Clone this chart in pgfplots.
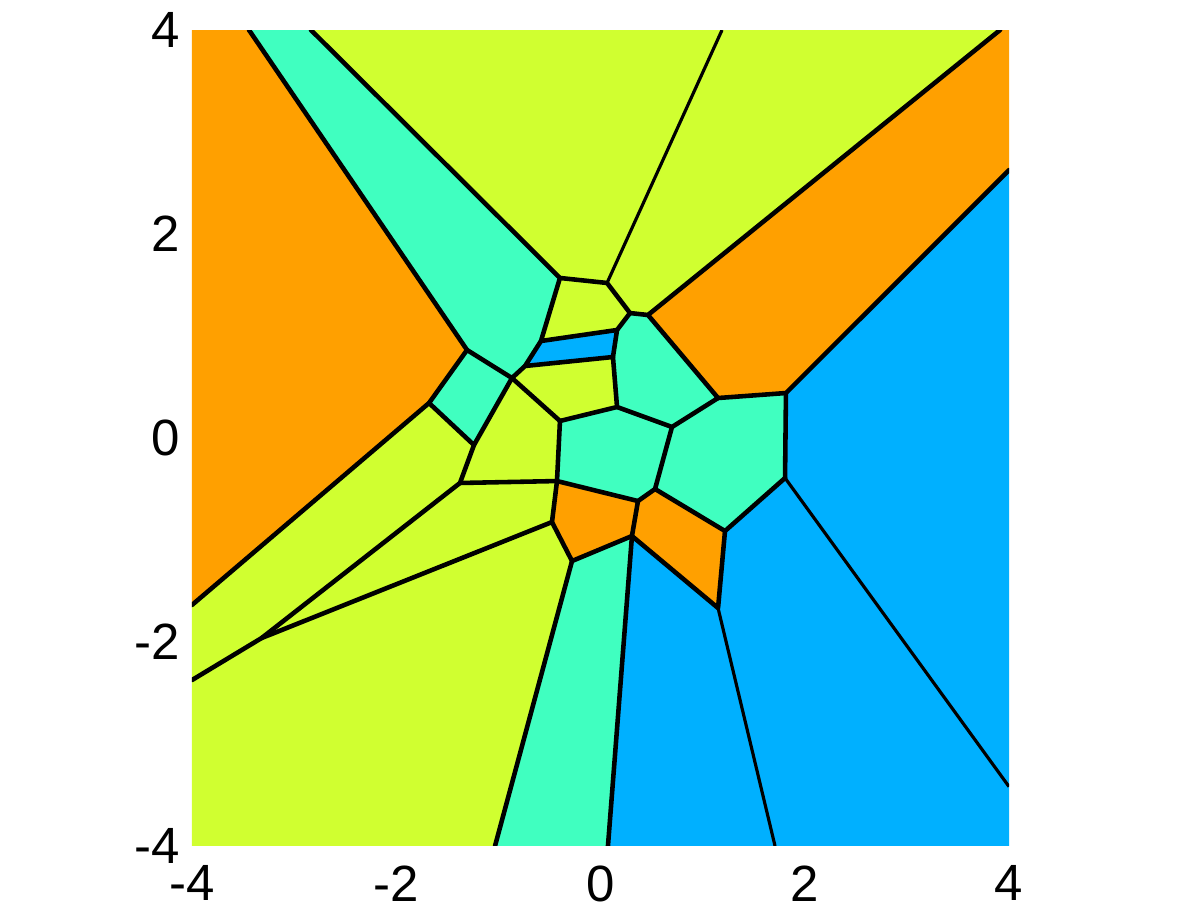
\documentclass[border=0pt]{standalone}
\usepackage{fontspec}
\setmainfont{Liberation Sans}
\usepackage{pgfplots}
\pgfplotsset{compat=1.18}
\definecolor{vorange}{RGB}{255,160,0}
\definecolor{vyellow}{RGB}{208,255,48}
\definecolor{vteal}{RGB}{64,255,192}
\definecolor{vblue}{RGB}{0,176,255}
\begin{document}
\begin{tikzpicture}
\begin{axis}[
    at={(0,0)}, anchor=south west,
    scale only axis,
    width=8.17cm, height=8.16cm,
    xmin=-4, xmax=4, ymin=-4, ymax=4,
    axis line style={draw=none},
    tick style={draw=none},
    xtick={-4,-2,0,2,4}, ytick={-4,-2,0,2,4},
    xticklabels={-4,-2,0,2,4}, yticklabels={-4,-2,0,2,4},
    tick label style={font=\fontsize{14.5}{17}\selectfont},
    xticklabel style={yshift=-2pt},
    cells/.style={draw=none},
    edge/.style={black, line width=1.3pt, line join=round, line cap=round},
    thinedge/.style={black, line width=0.9pt},
]
% cells
\addplot[cells, fill=vorange] coordinates {(-4,4) (-3.442,4) (-1.307,0.863) (-1.679,0.343) (-4,-1.637)} -- cycle;
\addplot[cells, fill=vteal] coordinates {(-3.442,4) (-2.835,4) (-0.397,1.569) (-0.583,0.951) (-0.739,0.706) (-0.867,0.588) (-1.307,0.863)} -- cycle;
\addplot[cells, fill=vyellow] coordinates {(-2.835,4) (1.190,4) (0.064,1.520) (-0.397,1.569)} -- cycle;
\addplot[cells, fill=vyellow] coordinates {(1.190,4) (3.912,4) (0.465,1.206) (0.289,1.225) (0.064,1.520)} -- cycle;
\addplot[cells, fill=vorange] coordinates {(3.912,4) (4,4) (4,2.627) (1.816,0.441) (1.151,0.392) (0.465,1.206)} -- cycle;
\addplot[cells, fill=vblue] coordinates {(4,2.627) (4,-3.418) (1.807,-0.392) (1.816,0.441)} -- cycle;
\addplot[cells, fill=vblue] coordinates {(4,-3.418) (4,-4) (1.709,-4) (1.151,-1.667) (1.219,-0.912) (1.807,-0.392)} -- cycle;
\addplot[cells, fill=vblue] coordinates {(1.151,-1.667) (1.709,-4) (0.073,-4) (0.308,-0.961)} -- cycle;
\addplot[cells, fill=vteal] coordinates {(0.308,-0.961) (0.073,-4) (-1.033,-4) (-0.279,-1.206)} -- cycle;
\addplot[cells, fill=vyellow] coordinates {(-1.033,-4) (-4,-4) (-4,-2.373) (-3.318,-1.961) (-0.475,-0.824) (-0.279,-1.206)} -- cycle;
\addplot[cells, fill=vyellow] coordinates {(-3.318,-1.961) (-1.376,-0.441) (-0.426,-0.422) (-0.475,-0.824)} -- cycle;
\addplot[cells, fill=vyellow] coordinates {(-4,-1.637) (-1.679,0.343) (-1.239,-0.069) (-1.376,-0.441) (-3.318,-1.961) (-4,-2.373)} -- cycle;
\addplot[cells, fill=vteal] coordinates {(-1.307,0.863) (-0.867,0.588) (-1.239,-0.069) (-1.679,0.343)} -- cycle;
\addplot[cells, fill=vyellow] coordinates {(-0.867,0.588) (-0.397,0.167) (-0.426,-0.422) (-1.376,-0.441) (-1.239,-0.069)} -- cycle;
\addplot[cells, fill=vyellow] coordinates {(-0.739,0.706) (0.122,0.794) (0.162,0.304) (-0.397,0.167) (-0.867,0.588)} -- cycle;
\addplot[cells, fill=vblue] coordinates {(-0.583,0.951) (0.162,1.059) (0.122,0.794) (-0.739,0.706)} -- cycle;
\addplot[cells, fill=vyellow] coordinates {(-0.397,1.569) (0.064,1.520) (0.289,1.225) (0.162,1.059) (-0.583,0.951)} -- cycle;
\addplot[cells, fill=vteal] coordinates {(0.289,1.225) (0.465,1.206) (1.151,0.392) (0.700,0.108) (0.162,0.304) (0.122,0.794) (0.162,1.059)} -- cycle;
\addplot[cells, fill=vteal] coordinates {(-0.397,0.167) (0.162,0.304) (0.700,0.108) (0.534,-0.500) (0.367,-0.618) (-0.426,-0.422)} -- cycle;
\addplot[cells, fill=vteal] coordinates {(1.151,0.392) (1.816,0.441) (1.807,-0.392) (1.219,-0.912) (0.534,-0.500) (0.700,0.108)} -- cycle;
\addplot[cells, fill=vorange] coordinates {(-0.426,-0.422) (0.367,-0.618) (0.308,-0.961) (-0.279,-1.206) (-0.475,-0.824)} -- cycle;
\addplot[cells, fill=vorange] coordinates {(0.367,-0.618) (0.534,-0.500) (1.219,-0.912) (1.151,-1.667) (0.308,-0.961)} -- cycle;
% edges
\addplot[edge] coordinates {(-3.442,4) (-1.307,0.863)};
\addplot[edge] coordinates {(-2.835,4) (-0.397,1.569)};
\addplot[thinedge] coordinates {(1.190,4) (0.064,1.520)};
\addplot[edge] coordinates {(-0.397,1.569) (0.064,1.520) (0.289,1.225) (0.465,1.206)};
\addplot[edge] coordinates {(0.465,1.206) (3.912,4)};
\addplot[edge] coordinates {(-0.397,1.569) (-0.583,0.951) (-0.739,0.706) (-0.867,0.588) (-1.307,0.863) (-1.679,0.343) (-4,-1.637)};
\addplot[edge] coordinates {(-0.583,0.951) (0.162,1.059) (0.289,1.225)};
\addplot[edge] coordinates {(0.162,1.059) (0.122,0.794) (-0.739,0.706)};
\addplot[edge] coordinates {(0.122,0.794) (0.162,0.304) (-0.397,0.167) (-0.867,0.588)};
\addplot[edge] coordinates {(-0.867,0.588) (-1.239,-0.069) (-1.679,0.343)};
\addplot[edge] coordinates {(-1.239,-0.069) (-1.376,-0.441) (-3.318,-1.961) (-4,-2.373)};
\addplot[edge] coordinates {(-1.376,-0.441) (-0.426,-0.422) (-0.397,0.167)};
\addplot[edge] coordinates {(0.162,0.304) (0.700,0.108) (1.151,0.392) (0.465,1.206)};
\addplot[edge] coordinates {(1.151,0.392) (1.816,0.441) (4,2.627)};
\addplot[edge] coordinates {(1.816,0.441) (1.807,-0.392)};
\addplot[thinedge] coordinates {(1.807,-0.392) (4,-3.418)};
\addplot[edge] coordinates {(0.700,0.108) (0.534,-0.500) (0.367,-0.618) (-0.426,-0.422)};
\addplot[edge] coordinates {(1.807,-0.392) (1.219,-0.912) (0.534,-0.500)};
\addplot[edge] coordinates {(-0.426,-0.422) (-0.475,-0.824) (-0.279,-1.206) (0.308,-0.961) (0.367,-0.618)};
\addplot[edge] coordinates {(-3.318,-1.961) (-0.475,-0.824)};
\addplot[edge] coordinates {(-0.279,-1.206) (-1.033,-4)};
\addplot[edge] coordinates {(0.308,-0.961) (0.073,-4)};
\addplot[edge] coordinates {(0.308,-0.961) (1.151,-1.667) (1.219,-0.912)};
\addplot[thinedge] coordinates {(1.151,-1.667) (1.709,-4)};
\end{axis}
\useasboundingbox (-1.92cm,-0.55cm) rectangle (10.09cm,8.46cm);
\end{tikzpicture}
\end{document}
